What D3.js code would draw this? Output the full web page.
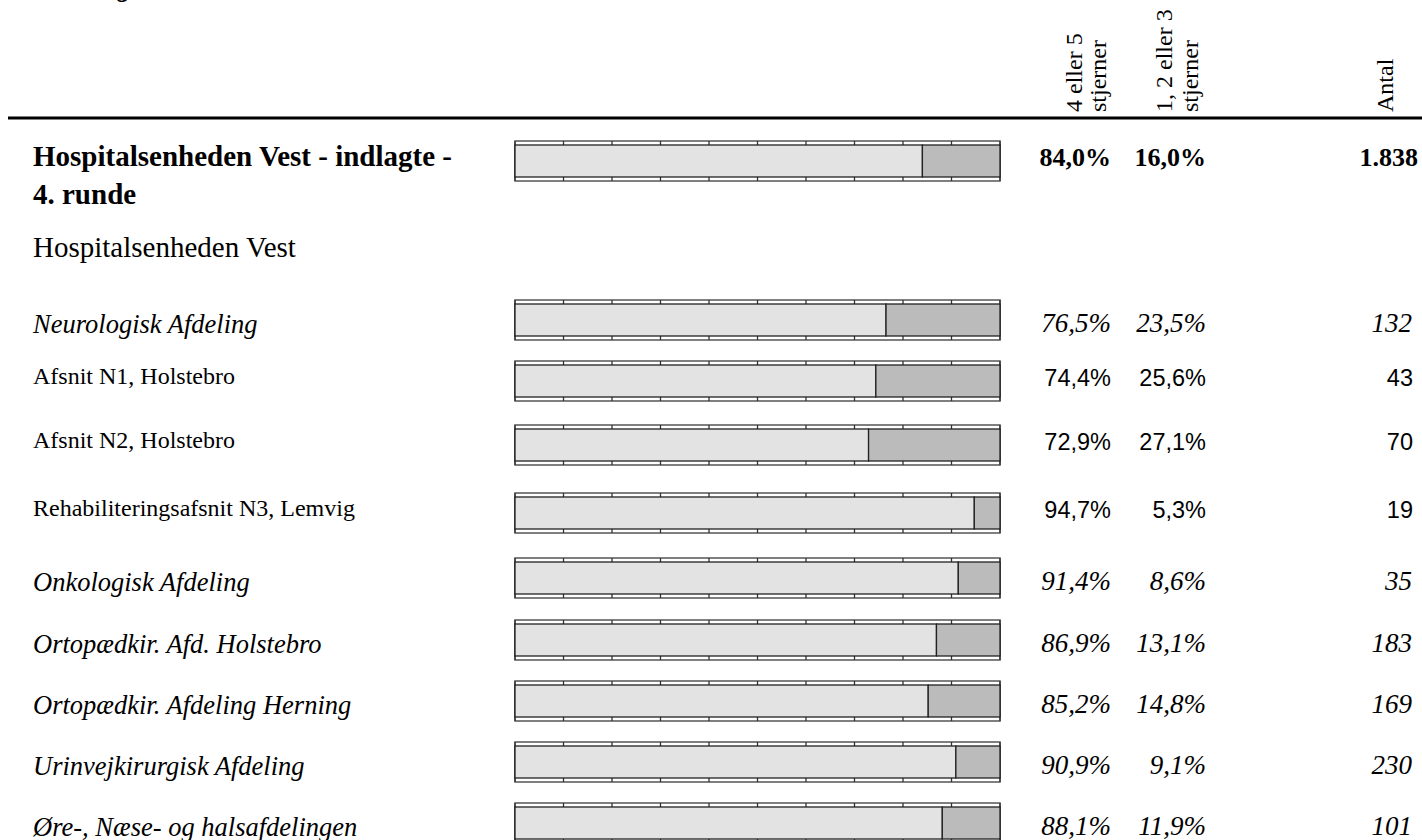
<!DOCTYPE html>
<html>
<head>
<meta charset="utf-8">
<script src="https://cdn.jsdelivr.net/npm/d3@7"></script>
<style>
  body { margin: 0; background: #ffffff; }
  svg { display: block; }
</style>
</head>
<body>
<svg id="chart" width="1422" height="840"></svg>
<script>
//Data
var rowNames = [
    "Hospitalsenheden Vest - indlagte - 4. runde",
    "Hospitalsenheden Vest",
    "Neurologisk Afdeling",
    "Afsnit N1, Holstebro",
    "Afsnit N2, Holstebro",
    "Rehabiliteringsafsnit N3, Lemvig",
    "Onkologisk Afdeling",
    "Ortopædkir. Afd. Holstebro",
    "Ortopædkir. Afdeling Herning",
    "Urinvejkirurgisk Afdeling",
    "Øre-, Næse- og halsafdelingen"
];
//row kind: total, group, dept, unit
var rowKinds = ["total", "group", "dept", "unit", "unit", "unit", "dept", "dept", "dept", "dept", "dept"];
var goodShare = [84.0, null, 76.5, 74.4, 72.9, 94.7, 91.4, 86.9, 85.2, 90.9, 88.1];
var badShare  = [16.0, null, 23.5, 25.6, 27.1, 5.3, 8.6, 13.1, 14.8, 9.1, 11.9];
var counts    = ["1.838", null, "132", "43", "70", "19", "35", "183", "169", "230", "101"];
var headers   = [["4 eller 5", "stjerner"], ["1, 2 eller 3", "stjerner"], ["Antal"]];
var ticks = [0, 10, 20, 30, 40, 50, 60, 70, 80, 90, 100];

//Layout
var rowTops = [141, 228, 300, 361, 425, 493, 558, 620, 681, 742, 803];
var frameH = 40, strip = 4;
var serif = "'Liberation Serif', 'Times New Roman', serif";
var sans = "'Liberation Sans', Arial, sans-serif";

var svg = d3.select("#chart");

var xScale = d3.scaleLinear().domain([0, 100]).range([515, 1000]);
var yScale = d3.scaleOrdinal().domain(d3.range(rowNames.length)).range(rowTops);

//Cut off title at top
svg.append("text")
   .attr("x", 131).attr("y", -3)
   .attr("text-anchor", "end")
   .style("font-family", serif).style("font-weight", "bold").style("font-style", "italic")
   .style("font-size", "26px")
   .text("Samlet vurdering");

//Header labels (baseline x of each rotated line)
var headerX = [[1082, 1106], [1172, 1198], [1393]];
headers.forEach(function(lines, i){
    lines.forEach(function(t, j){
        svg.append("text")
           .attr("transform", "translate(" + headerX[i][j] + ",112) rotate(-90)")
           .style("font-family", serif).style("font-size", "24px")
           .text(t);
    });
});

//Header rule
svg.append("line")
   .attr("x1", 8).attr("x2", 1422).attr("y1", 118).attr("y2", 118)
   .attr("stroke", "#000").attr("stroke-width", 3);

var rows = rowNames.map(function(n, i){
    return { name: n, kind: rowKinds[i], good: goodShare[i], bad: badShare[i], n: counts[i], i: i };
});
var barRows = rows.filter(function(d){ return d.good !== null; });

//Frames with ticks
var frames = svg.append("g").selectAll("g").data(barRows).enter().append("g")
    .attr("transform", function(d){ return "translate(0," + yScale(d.i) + ")"; });

frames.append("rect")
    .attr("x", xScale(0)).attr("y", 0)
    .attr("width", xScale(100) - xScale(0)).attr("height", frameH)
    .attr("fill", "#fff").attr("stroke", "#555").attr("stroke-width", 1.5);

frames.selectAll("line.tick").data(ticks).enter().append("line")
    .attr("class", "tick")
    .attr("x1", function(t){ return xScale(t); }).attr("x2", function(t){ return xScale(t); })
    .attr("y1", 0).attr("y2", frameH)
    .attr("stroke", "#333").attr("stroke-width", 1.3);

//Bars
frames.append("rect")
    .attr("x", xScale(0)).attr("y", strip)
    .attr("width", function(d){ return xScale(d.good) - xScale(0); })
    .attr("height", frameH - 2 * strip)
    .attr("fill", "#e3e3e3").attr("stroke", "#222").attr("stroke-width", 1.3);

frames.append("rect")
    .attr("x", function(d){ return xScale(d.good); }).attr("y", strip)
    .attr("width", function(d){ return xScale(100) - xScale(d.good); })
    .attr("height", frameH - 2 * strip)
    .attr("fill", "#bbbbbb").attr("stroke", "#222").attr("stroke-width", 1.3);

function fmt(v){ return v.toFixed(1).replace(".", ",") + "%"; }

//Row text styles (off = baseline offset from bar centre)
var styles = {
    total: { family: serif, weight: "bold", style: "normal", size: 29, off: 5,
             numFamily: serif, numSize: 26, numOff: 5, right: 1418 },
    group: { family: serif, weight: "normal", style: "normal", size: 29 },
    dept:  { family: serif, weight: "normal", style: "italic", size: 26.5, off: 12.5,
             numFamily: serif, numSize: 27, numOff: 11.5, right: 1412 },
    unit:  { family: serif, weight: "normal", style: "normal", size: 24, off: 2.5,
             numFamily: sans, numSize: 23.5, numOff: 4.5, right: 1413 }
};

rows.forEach(function(d){
    var s = styles[d.kind];
    var mid = yScale(d.i) + frameH / 2;
    var label = svg.append("text")
        .attr("x", 33)
        .style("font-family", s.family).style("font-weight", s.weight)
        .style("font-style", s.style).style("font-size", s.size + "px");
    if (d.kind === "total") {
        label.append("tspan").attr("x", 33).attr("y", mid + s.off).text("Hospitalsenheden Vest - indlagte -");
        label.append("tspan").attr("x", 33).attr("y", mid + s.off + 38).text("4. runde");
    } else if (d.kind === "group") {
        label.attr("y", 257).text(d.name);
    } else {
        label.attr("y", mid + s.off).text(d.name);
    }
    if (d.good === null) return;
    var cols = [[1111, fmt(d.good)], [1206, fmt(d.bad)], [s.right, d.n]];
    cols.forEach(function(c){
        svg.append("text")
           .attr("x", c[0]).attr("y", mid + s.numOff)
           .attr("text-anchor", "end")
           .style("font-family", s.numFamily).style("font-weight", s.weight)
           .style("font-style", s.style).style("font-size", s.numSize + "px")
           .text(c[1]);
    });
});
</script>
</body>
</html>
